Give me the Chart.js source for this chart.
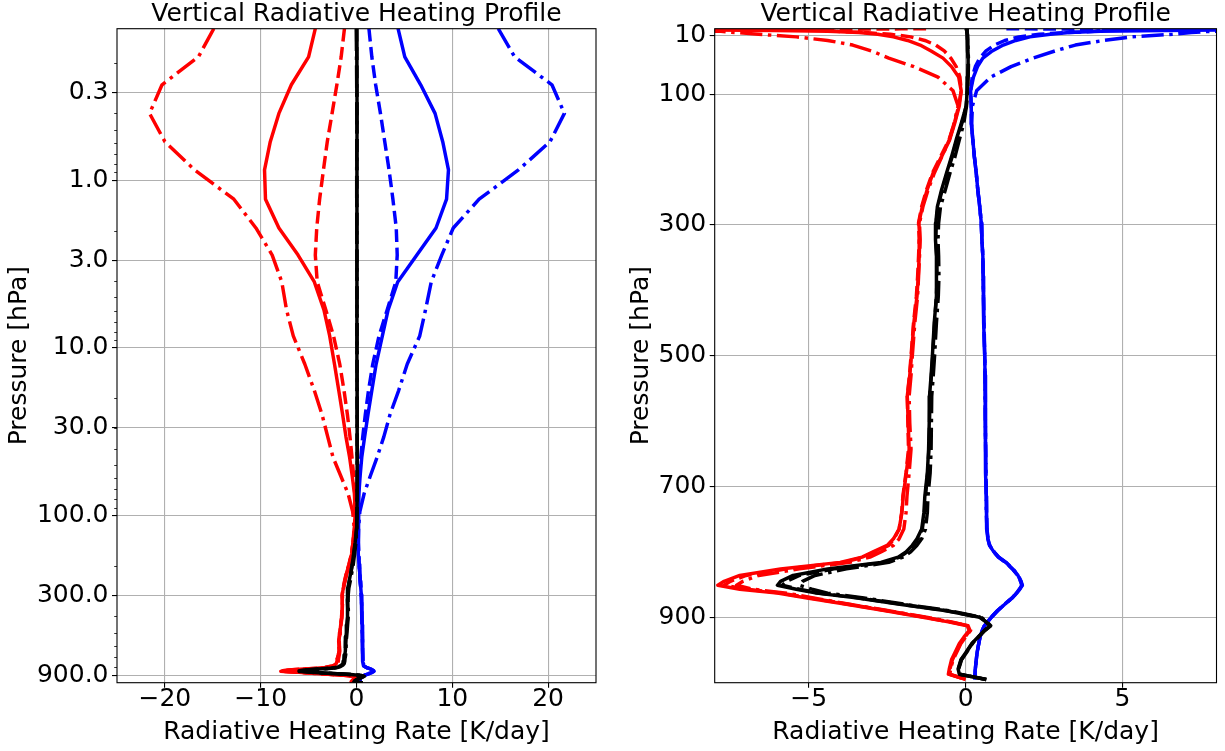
<!DOCTYPE html>
<html><head><meta charset="utf-8">
<script src="https://cdn.jsdelivr.net/npm/chart.js@4.4.1/dist/chart.umd.min.js"></script>
<style>
html,body{margin:0;padding:0;background:#fff;width:1225px;height:751px;overflow:hidden}
canvas{position:absolute;top:0}
#c1{left:0}
#c2{left:612px}
</style></head><body>
<canvas id="c1" width="612" height="751"></canvas>
<canvas id="c2" width="613" height="751"></canvas>
<script>
// ---------------- data ----------------
const pressure = [0.125,0.184,0.27,0.4,0.59,0.87,1.3,1.93,2.8,4.05,5.95,8.5,12.5,18,25,34,45,58,74,95,
  118,145,170,196,221,247,272,297,323,348,379,409,450,501,530,562,603,643,679,715,
  740,765,780,790,800,808,816,826,836,845,851,857,863,870,880,890,900,907,913,920,
  930,940,953,965,979,987,995];

const lwSolid = [-4.3,-5.0,-6.8,-8.1,-9.0,-9.6,-9.5,-8.1,-6.1,-4.4,-3.4,-2.8,-2.3,-1.85,-1.45,-1.1,-0.72,-0.45,-0.22,-0.14,
  -0.2,-0.35,-0.51,-0.77,-1.04,-1.23,-1.38,-1.49,-1.46,-1.48,-1.51,-1.55,-1.65,-1.73,-1.78,-1.86,-1.83,-1.8,-1.89,-1.99,
  -2.03,-2.12,-2.3,-2.5,-2.95,-3.3,-4.0,-5.9,-7.2,-7.7,-7.9,-7.2,-6.0,-5.1,-3.8,-2.55,-1.36,-0.55,0.05,0.12,
  -0.05,-0.2,-0.33,-0.45,-0.52,-0.55,0.0];
const lwDashed = [-1.26,-1.6,-2.05,-2.55,-3.05,-3.45,-3.85,-4.15,-4.3,-4.1,-3.2,-2.4,-1.75,-1.3,-0.95,-0.68,-0.47,-0.3,-0.18,-0.14,
  -0.22,-0.36,-0.53,-0.8,-1.06,-1.25,-1.4,-1.5,-1.48,-1.5,-1.53,-1.57,-1.66,-1.74,-1.79,-1.86,-1.84,-1.82,-1.9,-2.0,
  -2.04,-2.12,-2.28,-2.45,-2.9,-3.25,-3.9,-5.7,-7.0,-7.5,-7.7,-7.0,-5.9,-5.0,-3.75,-2.5,-1.3,-0.5,0.08,0.14,
  -0.02,-0.17,-0.3,-0.42,-0.5,-0.53,0.0];
const lwDashdot = [-14.9,-16.5,-20.3,-21.6,-20.0,-16.9,-12.8,-10.5,-8.8,-7.8,-7.3,-6.6,-5.4,-4.4,-3.6,-3.0,-2.45,-1.65,-0.88,-0.4,
  -0.24,-0.37,-0.52,-0.76,-1.0,-1.2,-1.36,-1.47,-1.45,-1.47,-1.5,-1.53,-1.62,-1.7,-1.74,-1.8,-1.78,-1.74,-1.8,-1.87,
  -1.9,-1.97,-2.12,-2.3,-2.7,-3.05,-3.7,-5.3,-6.6,-7.1,-7.3,-6.8,-5.7,-4.9,-3.7,-2.45,-1.25,-0.45,0.1,0.16,
  0.0,-0.15,-0.28,-0.4,-0.48,-0.5,0.0];

const swSolid = [4.34,5.04,6.7,8.2,9.0,9.6,9.4,8.3,6.3,4.3,3.3,2.7,2.05,1.6,1.2,0.85,0.55,0.38,0.25,0.16,
  0.18,0.18,0.23,0.28,0.34,0.39,0.45,0.5,0.52,0.55,0.56,0.57,0.58,0.61,0.62,0.62,0.63,0.64,0.65,0.66,
  0.66,0.68,0.71,0.76,0.9,1.05,1.28,1.5,1.67,1.76,1.8,1.72,1.62,1.5,1.25,1.02,0.82,0.7,0.6,0.53,
  0.46,0.42,0.37,0.34,0.31,0.3,0.29];
const swDashed = [1.3,1.6,2.0,2.5,2.95,3.4,3.8,4.15,4.25,4.1,3.2,2.35,1.7,1.25,0.92,0.65,0.45,0.31,0.21,0.16,
  0.18,0.19,0.23,0.28,0.34,0.39,0.45,0.5,0.52,0.55,0.56,0.57,0.59,0.61,0.62,0.63,0.63,0.64,0.65,0.66,
  0.67,0.68,0.71,0.77,0.9,1.04,1.27,1.49,1.66,1.75,1.79,1.72,1.62,1.49,1.24,1.01,0.82,0.7,0.6,0.53,
  0.46,0.42,0.37,0.34,0.31,0.3,0.29];
const swDashdot = [14.8,16.5,20.4,21.7,20.2,16.9,12.8,10.1,8.9,7.8,7.2,6.6,5.3,4.4,3.5,2.85,2.15,1.45,0.8,0.35,
  0.22,0.19,0.23,0.28,0.34,0.39,0.45,0.5,0.52,0.55,0.56,0.57,0.58,0.61,0.62,0.62,0.63,0.64,0.65,0.66,
  0.66,0.68,0.72,0.77,0.91,1.06,1.29,1.51,1.68,1.77,1.81,1.73,1.63,1.5,1.25,1.02,0.82,0.7,0.6,0.53,
  0.46,0.42,0.37,0.34,0.31,0.3,0.29];

const netSolid = [0.02,0.04,0.05,0.06,0.05,0.04,0.03,0.04,0.05,0.04,0.04,0.05,0.05,0.06,0.06,0.07,0.08,0.08,0.07,0.05,
  0.02,-0.14,-0.3,-0.45,-0.61,-0.77,-0.9,-0.95,-0.96,-0.93,-0.92,-0.94,-1.0,-1.06,-1.1,-1.15,-1.16,-1.18,-1.22,-1.3,
  -1.33,-1.4,-1.55,-1.7,-1.9,-2.15,-2.7,-4.4,-5.5,-5.9,-6.0,-5.4,-4.75,-3.5,-2.1,-0.62,0.45,0.65,0.78,0.6,
  0.4,0.2,0.02,-0.15,-0.24,-0.2,0.66];
const netDashed = [0.01,0.03,0.04,0.05,0.05,0.04,0.03,0.03,0.04,0.04,0.05,0.05,0.06,0.06,0.07,0.07,0.08,0.08,0.07,0.05,
  0.02,-0.12,-0.28,-0.43,-0.59,-0.75,-0.88,-0.94,-0.95,-0.92,-0.91,-0.93,-0.99,-1.05,-1.09,-1.14,-1.15,-1.17,-1.21,-1.28,
  -1.31,-1.38,-1.52,-1.66,-1.86,-2.1,-2.6,-4.2,-5.3,-5.7,-5.85,-5.3,-4.7,-3.45,-2.05,-0.6,0.46,0.66,0.79,0.61,
  0.41,0.21,0.03,-0.14,-0.23,-0.19,0.66];
const netDashdot = [-0.02,0.0,0.02,0.03,0.03,0.02,0.02,0.03,0.04,0.05,0.05,0.06,0.06,0.07,0.07,0.08,0.09,0.09,0.08,0.06,
  0.03,-0.06,-0.2,-0.34,-0.5,-0.65,-0.8,-0.86,-0.88,-0.86,-0.85,-0.87,-0.93,-0.99,-1.03,-1.08,-1.09,-1.1,-1.13,-1.2,
  -1.22,-1.28,-1.4,-1.55,-1.75,-2.0,-2.45,-3.8,-4.8,-5.2,-5.3,-4.9,-4.4,-3.3,-1.95,-0.5,0.5,0.68,0.8,0.62,
  0.42,0.22,0.04,-0.13,-0.22,-0.18,0.66];

const leftXTicks = [-20, -10, 0, 10, 20];
const rightXTicks = [-5, 0, 5];
const leftYTicks = [0.3, 1, 3, 10, 30, 100, 300, 900];
const rightYTicks = [10, 100, 300, 500, 700, 900];

// ---------------- styles ----------------
const FONT = "'DejaVu Sans', sans-serif";
const FS = 25;
const LW = 3.47;
const DASHES = { solid: [], dashed: [12.85, 5.55], dashdot: [22.2, 5.56, 3.47, 5.56] };
const seriesList = [
  { v: netSolid, c: '#000000', d: 'solid' },
  { v: netDashed, c: '#000000', d: 'dashed' },
  { v: netDashdot, c: '#000000', d: 'dashdot' },
  { v: swSolid, c: '#0000ff', d: 'solid' },
  { v: swDashed, c: '#0000ff', d: 'dashed' },
  { v: swDashdot, c: '#0000ff', d: 'dashdot' },
  { v: lwSolid, c: '#ff0000', d: 'solid' },
  { v: lwDashed, c: '#ff0000', d: 'dashed' },
  { v: lwDashdot, c: '#ff0000', d: 'dashdot' }
];

function minorLogTicks(lo, hi) {
  const out = [];
  for (let k = -2; k <= 3; k++) for (let n = 2; n <= 9; n++) {
    const v = n * Math.pow(10, k);
    if (v >= lo && v <= hi) out.push(v);
  }
  return out;
}

const framePlugin = {
  id: 'frame',
  afterDatasetsDraw(chart, args, o) {
    const { ctx, chartArea: a } = chart;
    ctx.save();
    if (o.minor && o.minor.length) {
      const ys = chart.scales.y;
      ctx.strokeStyle = '#000'; ctx.lineWidth = 0.8;
      for (const v of o.minor) {
        const py = Math.round(ys.getPixelForValue(v)) + 0.5;
        if (py < a.top || py > a.bottom) continue;
        ctx.beginPath(); ctx.moveTo(a.left, py); ctx.lineTo(a.left - 2.8, py); ctx.stroke();
      }
    }
    ctx.strokeStyle = '#000'; ctx.lineWidth = 1.1;
    ctx.strokeRect(a.left, a.top, a.right - a.left, a.bottom - a.top);
    ctx.restore();
  }
};

function makeChart(id, cfg) {
  const datasets = seriesList.map(s => ({
    data: pressure.map((p, i) => ({ x: s.v[i], y: p })),
    borderColor: s.c, backgroundColor: s.c, borderWidth: LW,
    borderDash: DASHES[s.d], borderJoinStyle: 'round', borderCapStyle: 'butt',
    showLine: true, pointRadius: 0, pointHoverRadius: 0, tension: 0, fill: false, clip: 0
  }));
  const tickFont = { family: FONT, size: FS, lineHeight: 1 };
  return new Chart(document.getElementById(id), {
    type: 'scatter',
    data: { datasets },
    plugins: [framePlugin],
    options: {
      responsive: false, animation: false, devicePixelRatio: 1, events: [],
      layout: { padding: { top: 0, left: 0, bottom: 0, right: cfg.padRight } },
      plugins: {
        legend: { display: false }, tooltip: { enabled: false },
        title: { display: true, text: 'Vertical Radiative Heating Profile', fullSize: false,
          color: '#000', font: { family: FONT, size: FS, weight: 'normal', lineHeight: 1 },
          padding: { top: 1.5, bottom: 2.2 } },
        frame: { minor: cfg.minor }
      },
      scales: {
        x: {
          type: 'linear', position: 'bottom', min: cfg.xMin, max: cfg.xMax,
          afterBuildTicks: s => { s.ticks = cfg.xTicks.map(v => ({ value: v })); },
          afterFit: s => { s.height = 68.3; },
          ticks: { font: tickFont, color: '#000', padding: -1.2, maxRotation: 0, autoSkip: false,
            callback: v => String(v).replace('-', '\u2212') },
          grid: { color: '#b0b0b0', lineWidth: 1.1, tickLength: 5, tickColor: '#000', tickWidth: 1.1 },
          border: { display: false },
          title: { display: true, text: 'Radiative Heating Rate [K/day]', color: '#000',
            font: { family: FONT, size: FS, lineHeight: 1 }, padding: { top: 0, bottom: 6 } }
        },
        y: {
          type: cfg.yType, position: 'left', reverse: true, min: cfg.yMin, max: cfg.yMax,
          afterBuildTicks: s => { s.ticks = cfg.yTicks.map(v => ({ value: v })); },
          afterFit: s => { s.width = cfg.yWidth; },
          ticks: { font: tickFont, color: '#000', padding: 3.5, autoSkip: false,
            callback: v => cfg.yFmt(v) },
          grid: { color: '#b0b0b0', lineWidth: 1.1, tickLength: 5, tickColor: '#000', tickWidth: 1.1 },
          border: { display: false },
          title: { display: true, text: 'Pressure [hPa]', color: '#000',
            font: { family: FONT, size: FS, lineHeight: 1 }, padding: { top: cfg.yTitlePad, bottom: 0 } }
        }
      }
    }
  });
}

makeChart('c1', {
  padRight: 16, yWidth: 117, yTitlePad: 6.5,
  xMin: -25, xMax: 25, xTicks: leftXTicks,
  yType: 'logarithmic', yMin: 0.125, yMax: 995, yTicks: leftYTicks,
  yFmt: v => Number(v).toFixed(1),
  minor: minorLogTicks(0.125, 995)
});
makeChart('c2', {
  padRight: 8.5, yWidth: 102.7, yTitlePad: 16.5,
  xMin: -8, xMax: 8, xTicks: rightXTicks,
  yType: 'linear', yMin: 0, yMax: 1000, yTicks: rightYTicks,
  yFmt: v => String(v),
  minor: []
});
</script>
</body></html>
